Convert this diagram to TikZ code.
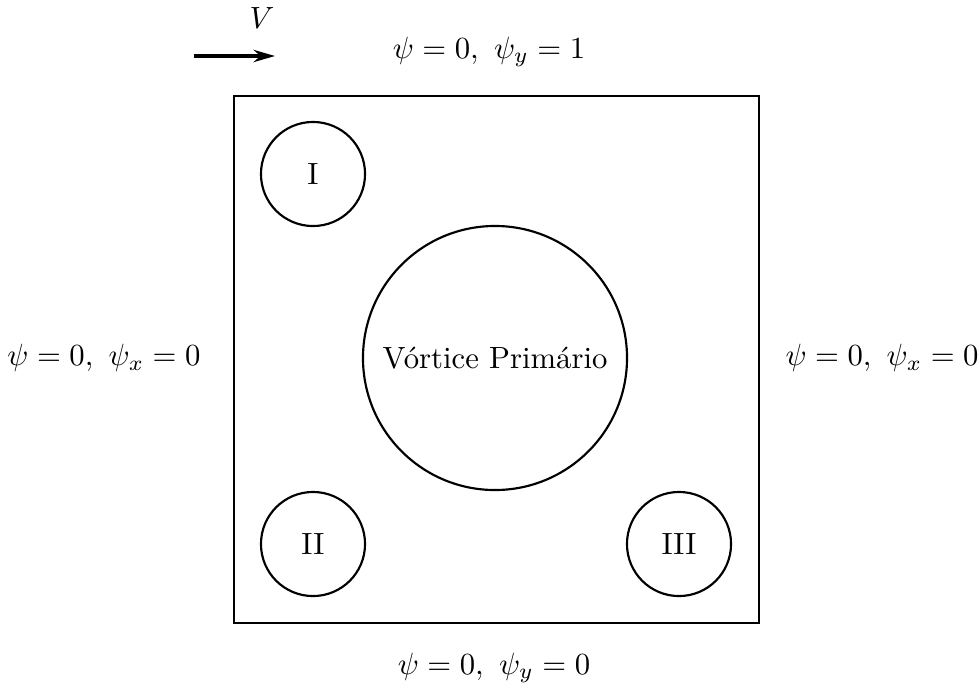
\documentclass[tikz,border=0pt]{standalone}
\usetikzlibrary{arrows.meta}
\begin{document}
\begin{tikzpicture}[x=0.3257pt,y=-0.3257pt,
  smallv/.style={circle, draw, line width=0.7pt, minimum size=33.9pt, inner sep=0pt},
  bigv/.style={circle, draw, line width=0.7pt, minimum size=86pt, inner sep=0pt},
  cavitybox/.style={draw, line width=0.8pt, minimum width=171pt, minimum height=171.6pt, inner sep=0pt},
  lbl/.style={inner sep=0pt}]
\useasboundingbox (0,0) rectangle (980,687);
\node[cavitybox] (dom) at (496.5,359.5) {};
\node[smallv] (c1) at (313,174) {I};
\node[smallv] (c2) at (313,544) {II};
\node[smallv] (c3) at (679,544) {III};
\node[bigv] (cp) at (495,358) {V\'ortice Prim\'ario};
\node[lbl] (top) at (489,52) {$\psi=0,\ \psi_y=1$};
\node[lbl] (bot) at (494,668) {$\psi=0,\ \psi_y=0$};
\node[lbl] (lft) at (104,358) {$\psi=0,\ \psi_x=0$};
\node[lbl] (rgt) at (882,358) {$\psi=0,\ \psi_x=0$};
\node[lbl] (V) at (262,18) {$V$};
\coordinate (a0) at (194,56);
\coordinate (a1) at (275,56);
\draw[line width=1pt, -{Stealth[length=7pt,width=4pt]}] (a0) -- (a1);
\end{tikzpicture}
\end{document}
